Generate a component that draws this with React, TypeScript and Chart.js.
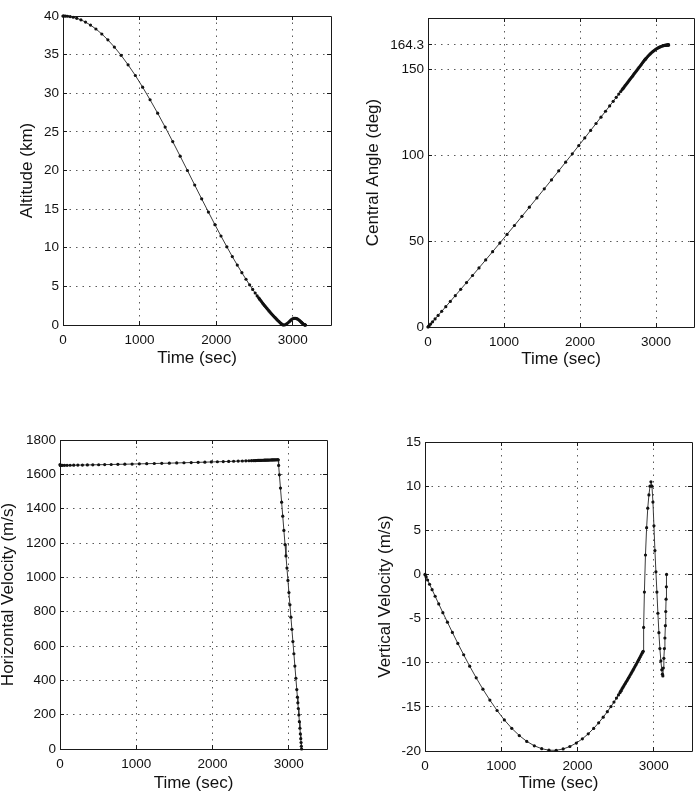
import React, { useEffect, useRef } from "react";
import { Chart, registerables } from "chart.js";

Chart.register(...registerables);

const FONT = '"Liberation Sans", Arial, Helvetica, sans-serif';

// Trajectory samples: coast descent, braking approach, terminal landing.
const timeSec = [
  0, 4, 15, 34, 60, 93, 133, 180, 234, 294, 359, 430, 507, 586, 671, 759, 850, 945, 1040, 1137, 1236,
  1334, 1433, 1530, 1625, 1720, 1811, 1899, 1984, 2063, 2140, 2211, 2276, 2336, 2390, 2437, 2477, 2510,
  2536, 2555, 2566, 2570,
  2582, 2594, 2606, 2618, 2630, 2642, 2654, 2666, 2678, 2690, 2702, 2714, 2726, 2738, 2750, 2762, 2774,
  2786, 2798, 2810, 2822, 2834, 2846, 2856,
  2860, 2866, 2876, 2890, 2905, 2920, 2935, 2950, 2962, 2975, 2988, 3001, 3014, 3027, 3040, 3053, 3066,
  3079, 3092, 3104, 3112, 3118, 3124, 3131, 3138, 3145, 3151, 3156, 3160, 3164, 3167,
];

const altitudeKm = [
  40.0, 40.0, 40.0, 39.99, 39.97, 39.92, 39.84, 39.7, 39.5, 39.21, 38.82, 38.32, 37.67, 36.91, 35.98,
  34.91, 33.68, 32.3, 30.79, 29.16, 27.42, 25.62, 23.74, 21.86, 20.0, 18.12, 16.33, 14.62, 12.99, 11.52,
  10.12, 8.86, 7.76, 6.77, 5.92, 5.2, 4.61, 4.14, 3.77, 3.52, 3.37, 3.32,
  3.16, 3.0, 2.85, 2.69, 2.54, 2.4, 2.25, 2.11, 1.96, 1.82, 1.69, 1.55, 1.42, 1.29, 1.16, 1.03, 0.91,
  0.79, 0.66, 0.55, 0.43, 0.32, 0.21, 0.12,
  0.08, 0.04, 0.0, 0.0, 0.05, 0.14, 0.26, 0.39, 0.5, 0.62, 0.73, 0.81, 0.86, 0.87, 0.86, 0.82, 0.76,
  0.67, 0.56, 0.45, 0.37, 0.31, 0.25, 0.18, 0.12, 0.07, 0.04, 0.02, 0.01, 0.0, 0.0,
];

const centralAngleDeg = [
  0.0, 0.2, 0.75, 1.71, 3.02, 4.69, 6.72, 9.11, 11.85, 14.92, 18.25, 21.92, 25.89, 30.0, 34.43, 39.05,
  43.85, 48.88, 53.94, 59.14, 64.48, 69.78, 75.17, 80.48, 85.7, 90.96, 96.02, 100.93, 105.7, 110.15,
  114.5, 118.54, 122.25, 125.68, 128.77, 131.48, 133.78, 135.69, 137.19, 138.3, 138.93, 139.16,
  139.85, 140.56, 141.25, 141.95, 142.65, 143.35, 144.05, 144.75, 145.45, 146.14, 146.84, 147.55,
  148.24, 148.95, 149.65, 150.35, 151.06, 151.76, 152.46, 153.17, 153.87, 154.58, 155.28, 155.86,
  155.98, 156.3, 156.82, 157.53, 158.24, 158.91, 159.55, 160.14, 160.59, 161.05, 161.47, 161.87, 162.23,
  162.57, 162.88, 163.15, 163.4, 163.62, 163.8, 163.95, 164.03, 164.09, 164.14, 164.19, 164.22, 164.26,
  164.28, 164.29, 164.3, 164.3, 164.3,
];

const horizontalVelocity = [
  1657.0, 1652.0, 1652.1, 1652.2, 1652.4, 1652.7, 1653.0, 1653.3, 1653.7, 1654.2, 1654.7, 1655.3, 1655.9,
  1656.6, 1657.4, 1658.2, 1659.0, 1660.0, 1661.0, 1662.0, 1663.0, 1664.1, 1665.2, 1666.4, 1667.5,
  1668.7, 1669.8, 1671.0, 1672.1, 1673.2, 1674.2, 1675.2, 1676.1, 1677.0, 1677.8, 1678.5, 1679.1,
  1679.5, 1679.9, 1680.2, 1680.4, 1680.5,
  1680.7, 1680.9, 1681.1, 1681.3, 1681.5, 1681.7, 1681.9, 1682.0, 1682.2, 1682.4, 1682.6, 1682.8,
  1683.0, 1683.2, 1683.4, 1683.6, 1683.8, 1684.0, 1684.2, 1684.4, 1684.5, 1684.7, 1684.9, 1685.0,
  1685, 1652, 1597, 1520, 1438, 1356, 1273, 1191, 1125, 1054, 982, 911, 840, 768, 697, 626, 555, 483,
  412, 346, 302, 269, 236, 198, 159, 121, 88, 60, 38, 16, 0,
];

const verticalVelocity = [
  0, -0.07, -0.28, -0.63, -1.11, -1.73, -2.47, -3.34, -4.33, -5.41, -6.57, -7.81, -9.1, -10.39, -11.71,
  -13.0, -14.23, -15.41, -16.48, -17.43, -18.25, -18.91, -19.41, -19.74, -19.91, -19.92, -19.77, -19.49,
  -19.1, -18.62, -18.05, -17.44, -16.81, -16.17, -15.55, -14.97, -14.46, -14.01, -13.65, -13.39, -13.23,
  -13.17,
  -12.97, -12.8, -12.63, -12.45, -12.28, -12.11, -11.93, -11.75, -11.58, -11.39, -11.21, -11.03, -10.84,
  -10.66, -10.47, -10.28, -10.09, -9.9, -9.71, -9.51, -9.32, -9.12, -8.92, -8.76,
  -8.7, -6.0, -2.0, 2.2, 5.3, 7.5, 9.0, 10.0, 10.5, 10.0, 8.2, 5.5, 2.7, 0.3, -2.0, -4.4, -6.6, -8.4,
  -9.8, -10.8, -11.3, -11.5, -10.6, -9.5, -8.4, -7.2, -5.8, -4.2, -2.8, -1.4, 0,
];

const timeTicks = [0, 1000, 2000, 3000];
const altitudeTicks = [0, 5, 10, 15, 20, 25, 30, 35, 40];
const angleTicks = [0, 50, 100, 150, 164.3];
const horizontalTicks = [0, 200, 400, 600, 800, 1000, 1200, 1400, 1600, 1800];
const verticalTicks = [-20, -15, -10, -5, 0, 5, 10, 15];

const TITLE_SIZE = 17;
const TITLE_LH = 1.2;
const TICK_SIZE = 13.5;

type PanelSpec = {
  values: number[];
  yTitle: string;
  yTicks: number[];
  yMin: number;
  yMax: number;
  left: number;
  top: number;
  width: number;
  height: number;
  area: { l: number; t: number; r: number; b: number };
  xTitleAt: number;
  yTitleAt: number;
};

const panels: PanelSpec[] = [
  {
    values: altitudeKm, yTitle: "Altitude (km)", yTicks: altitudeTicks, yMin: 0, yMax: 40,
    left: 0, top: 0, width: 350, height: 390,
    area: { l: 63, t: 16, r: 331, b: 325 }, xTitleAt: 358, yTitleAt: 27,
  },
  {
    values: centralAngleDeg, yTitle: "Central Angle (deg)", yTicks: angleTicks, yMin: 0, yMax: 180,
    left: 350, top: 0, width: 350, height: 390,
    area: { l: 78, t: 18, r: 344, b: 327 }, xTitleAt: 359, yTitleAt: 23,
  },
  {
    values: horizontalVelocity, yTitle: "Horizontal Velocity (m/s)", yTicks: horizontalTicks, yMin: 0, yMax: 1800,
    left: 0, top: 400, width: 350, height: 399,
    area: { l: 60, t: 40, r: 327, b: 349 }, xTitleAt: 383, yTitleAt: 8,
  },
  {
    values: verticalVelocity, yTitle: "Vertical Velocity (m/s)", yTicks: verticalTicks, yMin: -20, yMax: 15,
    left: 350, top: 400, width: 350, height: 399,
    area: { l: 75, t: 42, r: 342, b: 351 }, xTitleAt: 383, yTitleAt: 35,
  },
];

// Closed axes box with short inward tick marks on all four sides.
const axesFrame = {
  id: "axesFrame",
  beforeDatasetsDraw(chart: any) {
    const { ctx, chartArea } = chart;
    const { left, right, top, bottom } = chartArea;
    const xs = chart.scales.x;
    const ys = chart.scales.y;
    const len = 4;
    const al = (p: number) => Math.round(p - 0.5) + 0.5;
    ctx.save();
    ctx.strokeStyle = "#1a1a1a";
    ctx.lineWidth = 1;
    ctx.beginPath();
    ctx.rect(left + 0.5, top + 0.5, right - left, bottom - top);
    xs.ticks.forEach((t: any) => {
      const px = al(xs.getPixelForValue(t.value));
      ctx.moveTo(px, bottom);
      ctx.lineTo(px, bottom - len);
      ctx.moveTo(px, top);
      ctx.lineTo(px, top + len);
    });
    ys.ticks.forEach((t: any) => {
      const py = al(ys.getPixelForValue(t.value));
      ctx.moveTo(left, py);
      ctx.lineTo(left + len, py);
      ctx.moveTo(right, py);
      ctx.lineTo(right - len, py);
    });
    ctx.stroke();
    ctx.restore();
  },
};

function TrajectoryPanel({ spec }: { spec: PanelSpec }) {
  const ref = useRef<HTMLCanvasElement | null>(null);

  useEffect(() => {
    if (!ref.current) return;
    const { area, width, height } = spec;
    const halfTitle = (TITLE_SIZE * TITLE_LH) / 2;
    const points = timeSec.map((t, i) => ({ x: t, y: spec.values[i] }));
    const gridStyle = { color: "#5a5a5a", lineWidth: 1, drawTicks: false };
    const borderStyle = { display: false, dash: [1.5, 5] };

    const chart = new Chart(ref.current, {
      type: "line",
      data: {
        datasets: [
          {
            data: points,
            borderColor: "#3a3a3a",
            borderWidth: 1,
            pointRadius: 1.6,
            pointBackgroundColor: "#111",
            pointBorderWidth: 0,
            pointHoverRadius: 1.6,
            tension: 0,
            clip: false as any,
          },
        ],
      },
      options: {
        responsive: false,
        animation: false,
        devicePixelRatio: 1,
        events: [],
        layout: {
          autoPadding: false,
          padding: { left: 0, top: area.t, right: width - area.r, bottom: 0 },
        },
        plugins: { legend: { display: false }, tooltip: { enabled: false }, title: { display: false } },
        scales: {
          x: {
            type: "linear",
            min: 0,
            max: 3500,
            afterBuildTicks: (axis: any) => {
              axis.ticks = timeTicks.map((v) => ({ value: v }));
            },
            afterFit: (axis: any) => {
              axis.height = height - area.b;
            },
            grid: gridStyle,
            border: borderStyle,
            ticks: {
              padding: 7,
              maxRotation: 0,
              autoSkip: false,
              color: "#111",
              font: { family: FONT, size: TICK_SIZE },
              callback: (v: any) => String(v),
            },
            title: {
              display: true,
              text: "Time (sec)",
              color: "#111",
              font: { family: FONT, size: TITLE_SIZE, lineHeight: TITLE_LH },
              padding: { top: 0, bottom: height - spec.xTitleAt - halfTitle },
            },
          },
          y: {
            type: "linear",
            min: spec.yMin,
            max: spec.yMax,
            afterBuildTicks: (axis: any) => {
              axis.ticks = spec.yTicks.map((v) => ({ value: v }));
            },
            afterFit: (axis: any) => {
              axis.width = area.l;
            },
            grid: gridStyle,
            border: borderStyle,
            ticks: {
              padding: 4,
              autoSkip: false,
              color: "#111",
              font: { family: FONT, size: TICK_SIZE },
              callback: (v: any) => String(v),
            },
            title: {
              display: true,
              text: spec.yTitle,
              color: "#111",
              font: { family: FONT, size: TITLE_SIZE, lineHeight: TITLE_LH },
              padding: { top: spec.yTitleAt - halfTitle, bottom: 0 },
            },
          },
        },
      } as any,
      plugins: [axesFrame],
    });

    return () => chart.destroy();
  }, [spec]);

  return (
    <canvas
      ref={ref}
      width={spec.width}
      height={spec.height}
      style={{
        position: "absolute",
        left: spec.left,
        top: spec.top,
        width: spec.width,
        height: spec.height,
        display: "block",
      }}
    />
  );
}

export default function App() {
  return (
    <div
      style={{
        position: "absolute",
        left: 0,
        top: 0,
        width: 700,
        height: 799,
        background: "#fff",
        overflow: "hidden",
      }}
    >
      {panels.map((p, i) => (
        <TrajectoryPanel key={i} spec={p} />
      ))}
    </div>
  );
}
